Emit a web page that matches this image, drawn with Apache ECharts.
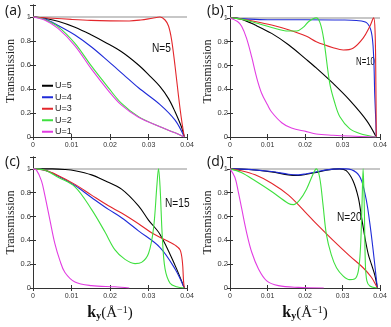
<!DOCTYPE html>
<html>
<head>
<meta charset="utf-8">
<script src="https://cdn.jsdelivr.net/npm/echarts@6/dist/echarts.min.js"></script>
<style>
  html, body { margin: 0; padding: 0; background: #fff; }
  #main { width: 391px; height: 327px; }
</style>
</head>
<body>
<div id="main"></div>
<script>
// k_y (1/A) vs transmission
// panel (a) N=5
var a5 = [[0,1],[0.003,0.99],[0.0065,0.965],[0.0109,0.915],[0.0152,0.85],[0.0187,0.79],[0.023,0.71],[0.0274,0.6],[0.03,0.52],[0.033,0.42],[0.0352,0.32],[0.0369,0.21],[0.0386,0.08],[0.0393,0]];
var a4 = [[0,1],[0.003,0.985],[0.0065,0.93],[0.0109,0.85],[0.0152,0.75],[0.0196,0.63],[0.0235,0.52],[0.0274,0.41],[0.033,0.27],[0.0369,0.14],[0.0393,0]];
var a3 = [[0,1],[0.005,0.99],[0.01,0.98],[0.015,0.972],[0.02,0.968],[0.025,0.967],[0.028,0.975],[0.031,0.99],[0.033,1],[0.0343,0.975],[0.0352,0.925],[0.036,0.81],[0.0369,0.59],[0.0378,0.34],[0.0386,0.14],[0.0393,0]];
var a2 = [[0,1],[0.003,0.98],[0.0065,0.92],[0.0109,0.78],[0.0152,0.59],[0.0196,0.41],[0.023,0.28],[0.0274,0.17],[0.033,0.085],[0.0369,0.035],[0.0393,0]];
var a1 = [[0,1],[0.003,0.975],[0.0065,0.905],[0.0109,0.76],[0.0152,0.565],[0.0196,0.385],[0.023,0.265],[0.0274,0.165],[0.033,0.085],[0.0369,0.035],[0.0393,0]];
// panel (b) N=10
var b5 = [[0,1],[0.003,0.99],[0.0067,0.94],[0.0111,0.87],[0.0156,0.775],[0.0204,0.65],[0.023,0.58],[0.0275,0.45],[0.0319,0.31],[0.0364,0.14],[0.039,0]];
var b4 = [[0,1],[0.005,0.99],[0.01,0.985],[0.02,0.985],[0.03,0.983],[0.0337,0.978],[0.0364,0.96],[0.0377,0.88],[0.0383,0.68],[0.0386,0.35],[0.0389,0.12],[0.039,0]];
var b3 = [[0,1],[0.003,0.99],[0.0067,0.97],[0.0111,0.94],[0.0156,0.9],[0.0204,0.845],[0.023,0.8],[0.0275,0.75],[0.0302,0.73],[0.0328,0.745],[0.0355,0.83],[0.0373,0.93],[0.0383,1],[0.0387,0.87],[0.0389,0.45],[0.039,0]];
var b2 = [[0,1],[0.003,0.99],[0.0067,0.96],[0.0111,0.92],[0.0156,0.89],[0.0178,0.89],[0.0195,0.92],[0.021,0.97],[0.023,1],[0.024,0.96],[0.025,0.82],[0.0266,0.45],[0.028,0.28],[0.0293,0.17],[0.0319,0.07],[0.0346,0.03],[0.039,0]];
var b1 = [[0,1],[0.002,0.97],[0.0031,0.93],[0.0044,0.83],[0.0058,0.67],[0.0071,0.5],[0.0084,0.37],[0.01,0.27],[0.0111,0.21],[0.0138,0.12],[0.0164,0.075],[0.0204,0.045],[0.023,0.025],[0.0275,0.015],[0.032,0.008],[0.039,0]];
// panel (c) N=15
var c5 = [[0,1],[0.005,1],[0.0083,0.995],[0.0109,0.985],[0.0152,0.95],[0.0187,0.9],[0.023,0.83],[0.0274,0.69],[0.03,0.57],[0.033,0.45],[0.0369,0.19],[0.0393,0]];
var c4 = [[0,1],[0.003,0.99],[0.0065,0.94],[0.0109,0.86],[0.0152,0.76],[0.0196,0.66],[0.023,0.59],[0.0274,0.48],[0.033,0.34],[0.0369,0.16],[0.0393,0]];
var c3 = [[0,1],[0.003,0.99],[0.0065,0.945],[0.0109,0.87],[0.0152,0.78],[0.0196,0.69],[0.023,0.63],[0.0274,0.54],[0.031,0.46],[0.0352,0.39],[0.0369,0.36],[0.0382,0.32],[0.0388,0.22],[0.0391,0.06],[0.0393,0]];
var c2 = [[0,1],[0.003,0.99],[0.0065,0.93],[0.0109,0.85],[0.0152,0.66],[0.0187,0.47],[0.0213,0.32],[0.0239,0.24],[0.0265,0.205],[0.0282,0.215],[0.03,0.29],[0.0313,0.5],[0.0322,0.87],[0.0326,1],[0.033,0.85],[0.0336,0.42],[0.0343,0.16],[0.0356,0.04],[0.0373,0.01],[0.0393,0]];
var c1 = [[0,1],[0.0009,0.99],[0.0022,0.9],[0.003,0.79],[0.0044,0.57],[0.0057,0.37],[0.007,0.23],[0.0083,0.13],[0.0109,0.05],[0.0152,0.02],[0.0213,0.01],[0.025,0]];
// panel (d) N=20
var d5 = [[0,1],[0.005,0.995],[0.0111,0.975],[0.0156,0.95],[0.0182,0.945],[0.0204,0.955],[0.023,0.97],[0.0257,0.99],[0.0292,1],[0.031,0.985],[0.0328,0.9],[0.0342,0.76],[0.0351,0.59],[0.036,0.42],[0.0369,0.28],[0.0377,0.2],[0.0386,0.11],[0.0393,0]];
var d4 = [[0,1],[0.005,0.996],[0.0111,0.978],[0.0156,0.955],[0.0182,0.95],[0.0204,0.96],[0.023,0.975],[0.0257,0.992],[0.0292,1],[0.031,1],[0.0337,0.97],[0.0351,0.9],[0.0364,0.73],[0.0373,0.54],[0.0382,0.31],[0.0389,0.11],[0.0393,0]];
var d3 = [[0,1],[0.003,0.985],[0.0067,0.95],[0.0111,0.88],[0.0156,0.78],[0.02,0.64],[0.023,0.54],[0.0275,0.4],[0.0319,0.27],[0.0355,0.17],[0.0377,0.09],[0.0389,0.025],[0.0393,0]];
var d2 = [[0,1],[0.003,0.97],[0.0067,0.9],[0.0111,0.81],[0.0156,0.71],[0.0169,0.7],[0.0186,0.74],[0.0204,0.83],[0.0222,0.96],[0.023,1],[0.0239,0.93],[0.0248,0.7],[0.0257,0.45],[0.027,0.28],[0.0284,0.17],[0.0302,0.1],[0.0319,0.07],[0.0332,0.075],[0.0342,0.14],[0.0348,0.34],[0.0352,0.7],[0.0355,1],[0.0358,0.7],[0.0361,0.2],[0.0365,0.06],[0.0373,0.017],[0.0393,0]];
var d1 = [[0,1],[0.0013,0.93],[0.0022,0.81],[0.0031,0.67],[0.0044,0.47],[0.0058,0.3],[0.0076,0.16],[0.0098,0.06],[0.0129,0.02],[0.0182,0.005],[0.025,0]];

var uNames = ['U=5', 'U=4', 'U=3', 'U=2', 'U=1'];
var uColors = ['#000000', '#1f2bd8', '#e3262b', '#3fe03f', '#e23de2'];
var panelCurves = [[a5, a4, a3, a2, a1], [b5, b4, b3, b2, b1], [c5, c4, c3, c2, c1], [d5, d4, d3, d2, d1]];
var panelTags = ['(a)', '(b)', '(c)', '(d)'];
var nLabels = ['N=5', 'N=10', 'N=15', 'N=20'];

var grids = [
    {left: 33, top: 5, width: 154, height: 132},
    {left: 230, top: 6, width: 150, height: 131},
    {left: 33, top: 157, width: 154, height: 131},
    {left: 230, top: 157, width: 150, height: 131}
];
var tagPos = [[5, 4], [207, 4], [5, 155], [207, 155]];
var nPos = [[152, 42], [356, 57], [165, 197], [337, 211]];
var nSize = [13, 10, 13, 13];

var frameColor = '#333';
var xAxes = [], yAxes = [], series = [], graphics = [];

grids.forEach(function (g, i) {
    var bottomRow = i >= 2;
    xAxes.push({
        type: 'value', gridIndex: i, position: 'bottom',
        min: 0, max: 0.04, interval: 0.01,
        axisLine: {show: true, lineStyle: {color: frameColor, width: 1}},
        axisTick: {show: true, inside: true, length: 3, lineStyle: {color: frameColor}},
        splitLine: {show: false},
        axisLabel: {
            fontSize: 7, color: '#333', margin: 5, fontFamily: 'Liberation Sans',
            formatter: function (v) { return v === 0 ? '0' : v.toFixed(2); }
        },
        name: bottomRow ? '{k|k}{sub|y}{p|(Å}{sup|−1}{p|)}' : '',
        nameLocation: 'middle', nameGap: 17,
        nameTextStyle: {
            fontFamily: 'Liberation Serif', color: '#111',
            rich: {
                k: {fontSize: 16, fontWeight: 'bold', fontFamily: 'Liberation Serif', color: '#111'},
                sub: {fontSize: 10, fontWeight: 'bold', fontFamily: 'Liberation Serif', color: '#111', verticalAlign: 'bottom', padding: [6, 0, 0, 0]},
                p: {fontSize: 15, fontFamily: 'Liberation Serif', color: '#111'},
                sup: {fontSize: 10, fontFamily: 'Liberation Serif', color: '#111', verticalAlign: 'top', padding: [0, 0, 6, 0]}
            }
        }
    });
    xAxes.push({
        type: 'value', gridIndex: i, position: 'top',
        min: 0, max: 0.04, interval: 0.01,
        axisLine: {show: true, lineStyle: {color: frameColor, width: 1}},
        axisTick: {show: true, inside: true, length: 3, lineStyle: {color: frameColor}},
        axisLabel: {show: false}, splitLine: {show: false}
    });
    yAxes.push({
        type: 'value', gridIndex: i, position: 'left',
        min: 0, max: 1.1, interval: 0.2,
        axisLine: {show: true, lineStyle: {color: frameColor, width: 1}},
        axisTick: {show: true, inside: true, length: 3, lineStyle: {color: frameColor}},
        splitLine: {show: false},
        axisLabel: {
            fontSize: 7.5, color: '#333', margin: 2, fontFamily: 'Liberation Sans',
            formatter: function (v) {
                if (v > 1.001) return '';
                if (v === 0) return '0';
                if (Math.abs(v - 1) < 1e-6) return '1';
                return v.toFixed(1);
            }
        },
        name: 'Transmission', nameLocation: 'middle', nameGap: 13,
        nameTextStyle: {fontFamily: 'Liberation Serif', fontSize: 12, color: '#222'}
    });
    yAxes.push({
        type: 'value', gridIndex: i, position: 'right',
        min: 0, max: 1.1, interval: 0.2,
        axisLine: {show: true, lineStyle: {color: frameColor, width: 1}},
        axisTick: {show: true, inside: true, length: 3, lineStyle: {color: frameColor}},
        axisLabel: {show: false}, splitLine: {show: false}
    });

    panelCurves[i].forEach(function (pts, j) {
        var s = {
            name: uNames[j], type: 'line',
            xAxisIndex: 2 * i, yAxisIndex: 2 * i,
            data: pts, smooth: 0.35,
            symbol: 'none', showSymbol: false,
            lineStyle: {color: uColors[j], width: 1.1},
            itemStyle: {color: uColors[j]},
            z: 3
        };
        if (j === 0) {
            // grey reference line at T = 1
            s.markLine = {
                silent: true, symbol: ['none', 'none'], label: {show: false},
                lineStyle: {color: '#b5b5b5', width: 1.6, type: 'solid'},
                data: [{yAxis: 1}], z: 1
            };
        }
        series.push(s);
    });

    graphics.push({
        type: 'text', left: tagPos[i][0], top: tagPos[i][1],
        style: {text: panelTags[i], font: '14px "Open Sans"', fill: '#111'}
    });
    // narrow lettering for the N labels
    graphics.push({
        type: 'text', x: nPos[i][0], y: nPos[i][1], scaleX: 0.78,
        style: {text: nLabels[i], font: nSize[i] + 'px "Liberation Sans"', fill: '#111'}
    });
});

var chart = echarts.init(document.getElementById('main'));
chart.setOption({
    animation: false,
    backgroundColor: '#fff',
    grid: grids,
    xAxis: xAxes,
    yAxis: yAxes,
    legend: {
        data: uNames, orient: 'vertical',
        left: 37, top: 75,
        icon: 'rect', itemWidth: 11, itemHeight: 2, itemGap: 0,
        selectedMode: false,
        textStyle: {fontSize: 9, lineHeight: 11.5, color: '#222', fontFamily: 'Liberation Sans', padding: [0, 0, 0, -3]}
    },
    graphic: graphics,
    series: series
});
</script>
</body>
</html>
